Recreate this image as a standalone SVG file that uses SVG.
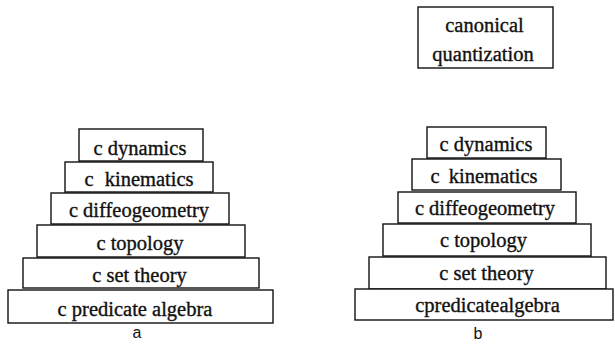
<svg xmlns="http://www.w3.org/2000/svg" width="615" height="348" viewBox="0 0 615 348">
<style>
.box{fill:#fff;stroke:#111;stroke-width:1.4}
.t{font-family:"Liberation Serif","Times New Roman",serif;font-size:20.5px;fill:#111;stroke:#111;stroke-width:0.35;text-anchor:middle}
.lab{font-family:"Liberation Sans",Arial,sans-serif;font-size:16px;fill:#111;text-anchor:middle}
</style>
<rect width="615" height="348" fill="#fff"/>
<g id="stack-a">
  <g id="a-dynamics"><rect class="box" x="79" y="129" width="124" height="32"/><text class="t" x="140" y="155">c dynamics</text></g>
  <g id="a-kinematics"><rect class="box" x="65" y="162" width="148" height="30"/><text class="t" x="139" y="186" word-spacing="6">c kinematics</text></g>
  <g id="a-diffeogeometry"><rect class="box" x="51" y="193" width="178" height="31"/><text class="t" x="139" y="217">c diffeogeometry</text></g>
  <g id="a-topology"><rect class="box" x="37" y="225" width="208" height="32"/><text class="t" x="140" y="250">c topology</text></g>
  <g id="a-settheory"><rect class="box" x="23" y="258" width="236" height="30"/><text class="t" x="139.5" y="282">c set theory</text></g>
  <g id="a-predicate"><rect class="box" x="8" y="290" width="265" height="33"/><text class="t" x="135" y="316">c predicate algebra</text></g>
  <text class="lab" x="137" y="338">a</text>
</g>
<g id="stack-b">
  <g id="canonical"><rect class="box" x="418" y="7" width="135" height="61"/><text class="t" x="484.5" y="32">canonical</text><text class="t" x="483" y="61">quantization</text></g>
  <g id="b-dynamics"><rect class="box" x="427" y="127" width="119" height="31"/><text class="t" x="486" y="151">c dynamics</text></g>
  <g id="b-kinematics"><rect class="box" x="412" y="159" width="149" height="31"/><text class="t" x="484" y="183" word-spacing="4">c kinematics</text></g>
  <g id="b-diffeogeometry"><rect class="box" x="398" y="192" width="178" height="31"/><text class="t" x="485" y="215">c diffeogeometry</text></g>
  <g id="b-topology"><rect class="box" x="383" y="224" width="208" height="32"/><text class="t" x="483.5" y="247">c topology</text></g>
  <g id="b-settheory"><rect class="box" x="369" y="257" width="237" height="32"/><text class="t" x="486.5" y="280">c set theory</text></g>
  <g id="b-predicate"><rect class="box" x="355" y="289" width="258" height="31"/><text class="t" x="487.5" y="312">cpredicatealgebra</text></g>
  <text class="lab" x="478" y="339">b</text>
</g>
<g id="connectors"></g>
</svg>
